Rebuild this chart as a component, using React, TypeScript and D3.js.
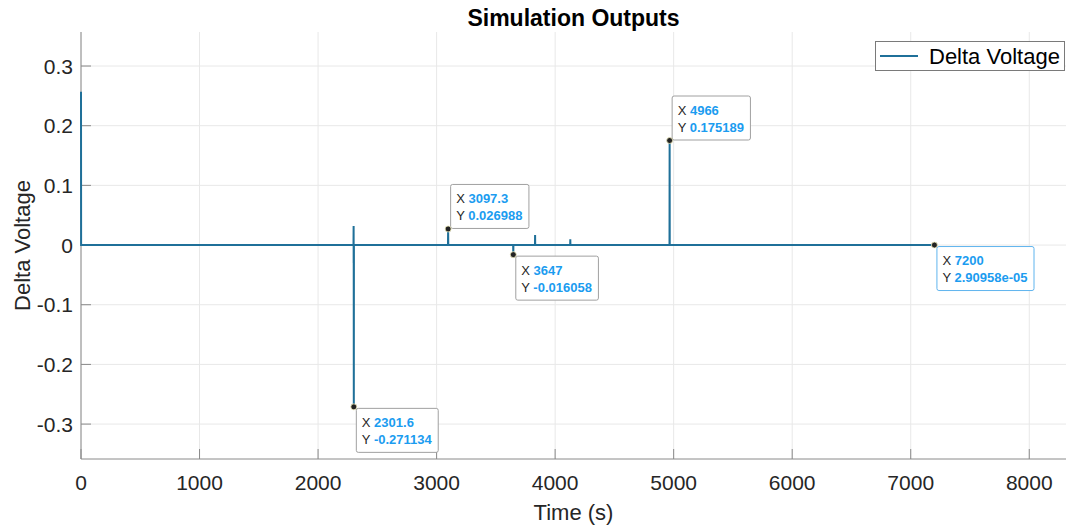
import { useEffect, useRef } from "react";
import * as d3 from "d3";

// series: time (s) and delta voltage
const times = [
  0, 1, 2299, 2300, 2300.4, 2300.8, 2301.6, 2302.5, 3096, 3097.3, 3098.5, 3646,
  3647, 3648, 3830, 3831, 3832, 4127, 4128, 4129, 4965, 4966, 4967, 7200,
];
const values = [
  0.257, 0, 0, 0.032, -0.03, 0, -0.271134, 0, 0, 0.026988, 0, 0, -0.016058, 0,
  0, 0.017, 0, 0, 0.0095, 0, 0, 0.175189, 0, 0.0000290958,
];

// data tips shown on the figure
const tipX = [2301.6, 3097.3, 3647, 4966, 7200];
const tipY = [-0.271134, 0.026988, -0.016058, 0.175189, 0.0000290958];
const tipXLabel = ["2301.6", "3097.3", "3647", "4966", "7200"];
const tipYLabel = ["-0.271134", "0.026988", "-0.016058", "0.175189", "2.90958e-05"];
const tipAbove = [false, true, false, true, false];

const xTicks = [0, 1000, 2000, 3000, 4000, 5000, 6000, 7000, 8000];
const yTicks = [-0.3, -0.2, -0.1, 0, 0.1, 0.2, 0.3];

const App = () => {
  const svgRef = useRef<SVGSVGElement | null>(null);

  useEffect(() => {
    const width = 1067;
    const height = 526;
    const margin = { top: 32, right: 1, bottom: 67, left: 81 };
    const font = "'Liberation Sans', Arial, Helvetica, sans-serif";
    const lineColor = "#1f7099";

    const svg = d3.select(svgRef.current);
    svg.selectAll("*").remove();
    svg.attr("width", width).attr("height", height).style("font-family", font);

    const x = d3
      .scaleLinear()
      .domain([0, 8310])
      .range([margin.left, width - margin.right]);
    const y = d3
      .scaleLinear()
      .domain([-0.3585, 0.357])
      .range([height - margin.bottom, margin.top]);

    const left = margin.left;
    const right = width - margin.right;
    const top = margin.top;
    const bottom = height - margin.bottom;

    // grid
    svg
      .selectAll(".xgrid")
      .data(xTicks)
      .enter()
      .append("line")
      .attr("x1", (d) => x(d))
      .attr("x2", (d) => x(d))
      .attr("y1", top)
      .attr("y2", bottom)
      .attr("stroke", "#e8e8e8")
      .attr("stroke-width", 1);
    svg
      .selectAll(".ygrid")
      .data(yTicks)
      .enter()
      .append("line")
      .attr("x1", left)
      .attr("x2", right)
      .attr("y1", (d) => y(d))
      .attr("y2", (d) => y(d))
      .attr("stroke", "#e8e8e8")
      .attr("stroke-width", 1);

    // axes lines and inward ticks
    svg
      .append("line")
      .attr("x1", left)
      .attr("x2", left)
      .attr("y1", top)
      .attr("y2", bottom)
      .attr("stroke", "#8a8a8a");
    svg
      .append("line")
      .attr("x1", left)
      .attr("x2", right)
      .attr("y1", bottom)
      .attr("y2", bottom)
      .attr("stroke", "#8a8a8a");
    svg
      .selectAll(".xtick")
      .data(xTicks)
      .enter()
      .append("line")
      .attr("x1", (d) => x(d))
      .attr("x2", (d) => x(d))
      .attr("y1", bottom)
      .attr("y2", bottom - 10)
      .attr("stroke", "#8a8a8a");
    svg
      .selectAll(".ytick")
      .data(yTicks)
      .enter()
      .append("line")
      .attr("x1", left)
      .attr("x2", left + 10)
      .attr("y1", (d) => y(d))
      .attr("y2", (d) => y(d))
      .attr("stroke", "#8a8a8a");

    // tick labels (plain hyphen for negatives, as in the original)
    svg
      .selectAll(".xlabel")
      .data(xTicks)
      .enter()
      .append("text")
      .attr("x", (d) => x(d))
      .attr("y", bottom + 31)
      .attr("text-anchor", "middle")
      .attr("fill", "#262626")
      .style("font-size", "21px")
      .text((d) => String(d));
    svg
      .selectAll(".ylabel")
      .data(yTicks)
      .enter()
      .append("text")
      .attr("x", left - 8)
      .attr("y", (d) => y(d))
      .attr("dy", "0.36em")
      .attr("text-anchor", "end")
      .attr("fill", "#262626")
      .style("font-size", "21px")
      .text((d) => (d === 0 ? "0" : d.toFixed(1)));

    // axis titles
    svg
      .append("text")
      .attr("x", (left + right) / 2)
      .attr("y", 520)
      .attr("text-anchor", "middle")
      .attr("fill", "#262626")
      .style("font-size", "22px")
      .text("Time (s)");
    svg
      .append("text")
      .attr("transform", `translate(30, ${(top + bottom) / 2}) rotate(-90)`)
      .attr("text-anchor", "middle")
      .attr("fill", "#262626")
      .style("font-size", "22px")
      .text("Delta Voltage");
    svg
      .append("text")
      .attr("x", (left + right) / 2)
      .attr("y", 26)
      .attr("text-anchor", "middle")
      .attr("fill", "#000")
      .style("font-size", "23px")
      .style("font-weight", "bold")
      .text("Simulation Outputs");

    // the series
    const pts = times.map((t, i) => [t, values[i]] as [number, number]);
    const line = d3
      .line<[number, number]>()
      .x((d) => x(d[0]))
      .y((d) => y(d[1]));
    svg
      .append("path")
      .datum(pts)
      .attr("d", line)
      .attr("fill", "none")
      .attr("stroke", lineColor)
      .attr("stroke-width", 2);

    // legend
    const lg = svg.append("g");
    lg.append("rect")
      .attr("x", 875.5)
      .attr("y", 41.5)
      .attr("width", 189)
      .attr("height", 29)
      .attr("fill", "white")
      .attr("stroke", "#7a7a7a");
    lg.append("line")
      .attr("x1", 880)
      .attr("x2", 918)
      .attr("y1", 56)
      .attr("y2", 56)
      .attr("stroke", lineColor)
      .attr("stroke-width", 2);
    lg.append("text")
      .attr("x", 929)
      .attr("y", 64)
      .attr("fill", "#000")
      .style("font-size", "22px")
      .text("Delta Voltage");

    // data tips
    tipX.forEach((tx, i) => {
      const px = x(tx);
      const py = y(tipY[i]);
      const h = 45;
      const last = i === tipX.length - 1;
      const g = svg.append("g");
      const box = g
        .append("rect")
        .attr("fill", "white")
        .attr("stroke", last ? "#5fb4ee" : "#a0a0a0")
        .attr("rx", 2);
      const bx = px + 2;
      const by = tipAbove[i] ? py - h : py + 1;
      const t1 = g
        .append("text")
        .attr("x", bx + 6)
        .attr("y", by + 19)
        .style("font-size", "13px");
      t1.append("tspan").attr("fill", "#262626").text("X ");
      t1.append("tspan")
        .attr("fill", "#1b9cf0")
        .style("font-weight", "bold")
        .text(tipXLabel[i]);
      const t2 = g
        .append("text")
        .attr("x", bx + 6)
        .attr("y", by + 36)
        .style("font-size", "13px");
      t2.append("tspan").attr("fill", "#262626").text("Y ");
      t2.append("tspan")
        .attr("fill", "#1b9cf0")
        .style("font-weight", "bold")
        .text(tipYLabel[i]);
      const w =
        Math.max(
          (t1.node() as SVGTextElement).getComputedTextLength(),
          (t2.node() as SVGTextElement).getComputedTextLength()
        ) + 12;
      box
        .attr("x", bx + 0.5)
        .attr("y", by + 0.5)
        .attr("width", w)
        .attr("height", h - 1);
      svg
        .append("circle")
        .attr("cx", px)
        .attr("cy", py)
        .attr("r", 3)
        .attr("fill", "#222")
        .attr("stroke", "#f3efc0")
        .attr("stroke-width", 0.8);
    });
  }, []);

  return (
    <div style={{ position: "absolute", left: 0, top: 0 }}>
      <svg ref={svgRef}></svg>
    </div>
  );
};

export default App;
